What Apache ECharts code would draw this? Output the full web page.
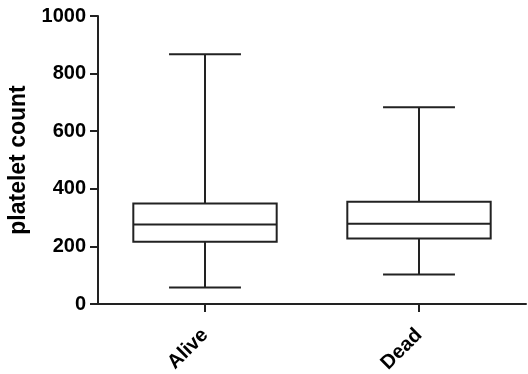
<!DOCTYPE html>
<html>
<head>
<meta charset="utf-8">
<script src="https://cdn.jsdelivr.net/npm/echarts@6/dist/echarts.min.js"></script>
<style>
  html, body { margin: 0; padding: 0; background: #fff; }
  #chart { width: 528px; height: 374px; }
</style>
</head>
<body>
<div id="chart"></div>
<script>
// box stats: [min, Q1, median, Q3, max]
const groups = ['Alive', 'Dead'];
const aliveStats = [57, 216, 276, 349, 867];
const deadStats = [102, 227, 279, 355, 683];
const yTicks = [0, 200, 400, 600, 800, 1000];

const lineColor = '#222';
const stats = [aliveStats, deadStats];

function drawBox(params, api) {
    const idx = api.value(0);
    const s = stats[idx];
    const band = api.size([1, 0])[0];
    const half = band * 0.335;
    const capHalf = band * 0.168;
    const pMin = api.coord([idx, s[0]]);
    const pQ1 = api.coord([idx, s[1]]);
    const pMed = api.coord([idx, s[2]]);
    const pQ3 = api.coord([idx, s[3]]);
    const pMax = api.coord([idx, s[4]]);
    const x = pMed[0];
    const style = { stroke: lineColor, lineWidth: 2, fill: null };
    return {
        type: 'group',
        children: [
            { type: 'rect', shape: { x: x - half, y: pQ3[1], width: half * 2, height: pQ1[1] - pQ3[1] }, style: { stroke: lineColor, lineWidth: 2, fill: '#fff' } },
            { type: 'line', shape: { x1: x - half, y1: pMed[1], x2: x + half, y2: pMed[1] }, style: style },
            { type: 'line', shape: { x1: x, y1: pQ3[1], x2: x, y2: pMax[1] }, style: style },
            { type: 'line', shape: { x1: x, y1: pQ1[1], x2: x, y2: pMin[1] }, style: style },
            { type: 'line', shape: { x1: x - capHalf, y1: pMax[1], x2: x + capHalf, y2: pMax[1] }, style: style },
            { type: 'line', shape: { x1: x - capHalf, y1: pMin[1], x2: x + capHalf, y2: pMin[1] }, style: style }
        ]
    };
}

const chart = echarts.init(document.getElementById('chart'));
const option = {
    animation: false,
    grid: { left: 98, right: 2, top: 16, bottom: 70, containLabel: false, outerBoundsMode: 'none' },
    xAxis: {
        type: 'category',
        data: groups,
        axisLine: { lineStyle: { color: lineColor, width: 2 } },
        axisTick: { show: true, alignWithLabel: true, length: 8, lineStyle: { color: lineColor, width: 2 } },
        axisLabel: {
            rotate: 45, margin: 28, color: '#000',
            fontFamily: 'Liberation Sans', fontWeight: 'bold', fontSize: 20
        }
    },
    yAxis: {
        type: 'value',
        min: yTicks[0],
        max: yTicks[yTicks.length - 1],
        interval: 200,
        name: 'platelet count',
        nameLocation: 'middle',
        nameGap: 64,
        nameTextStyle: { color: '#000', fontFamily: 'Liberation Sans', fontWeight: 'bold', fontSize: 23 },
        splitLine: { show: false },
        axisLine: { show: true, lineStyle: { color: lineColor, width: 2 } },
        axisTick: { show: true, length: 8, lineStyle: { color: lineColor, width: 2 } },
        axisLabel: {
            margin: 12, color: '#000',
            fontFamily: 'Liberation Sans', fontWeight: 'bold', fontSize: 20,
            formatter: v => String(v)
        }
    },
    series: [{
        type: 'custom',
        renderItem: drawBox,
        data: groups.map((g, i) => [i]),
        encode: { x: 0 }
    }]
};
chart.setOption(option);
</script>
</body>
</html>
